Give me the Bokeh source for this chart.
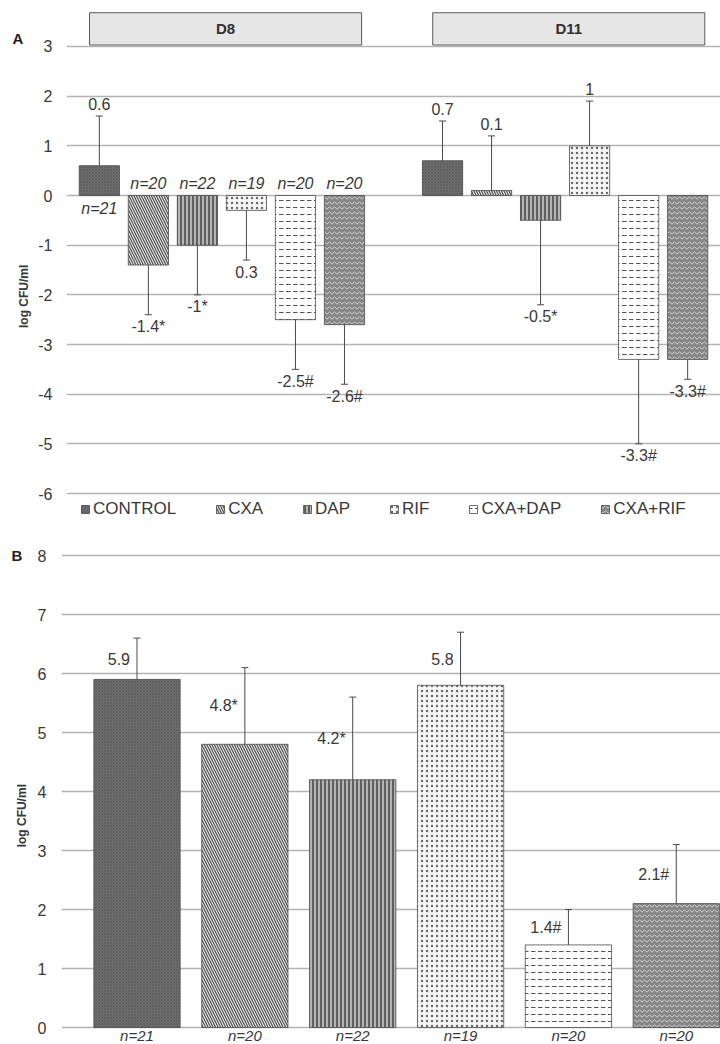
import math
from bokeh.plotting import figure
from bokeh.layouts import column, row
from bokeh.models import (ColumnDataSource, Range1d, FixedTicker, Legend, LegendItem,
                          Label, LabelSet)
from bokeh.core.properties import value
from bokeh.embed import file_html
from bokeh.resources import INLINE

# ---------------- data ----------------
treatments = ["CONTROL", "CXA", "DAP", "RIF", "CXA+DAP", "CXA+RIF"]
days = ["D8", "D11"]

# Panel A: change of log CFU/ml at day 8 and day 11
a_d8_mean = [0.6, -1.4, -1.0, -0.3, -2.5, -2.6]
a_d8_sd = [1.0, 1.0, 1.0, 1.0, 1.0, 1.2]
a_d11_mean = [0.7, 0.1, -0.5, 1.0, -3.3, -3.3]
a_d11_sd = [0.8, 1.1, 1.7, 0.9, 1.7, 0.4]
a_d8_labels = ["0.6", "-1.4*", "-1*", "0.3", "-2.5#", "-2.6#"]
a_d11_labels = ["0.7", "0.1", "-0.5*", "1", "-3.3#", "-3.3#"]
n_counts = ["n=21", "n=20", "n=22", "n=19", "n=20", "n=20"]
a_ticks = [-6, -5, -4, -3, -2, -1, 0, 1, 2, 3]
a_tick_labels = ["-6", "-5", "-4", "-3", "-2", "-1", "0", "1", "2", "3"]

# Panel B: log CFU/ml
b_mean = [5.9, 4.8, 4.2, 5.8, 1.4, 2.1]
b_sd = [0.7, 1.3, 1.4, 0.9, 0.6, 1.0]
b_labels = ["5.9", "4.8*", "4.2*", "5.8", "1.4#", "2.1#"]
b_ticks = [0, 1, 2, 3, 4, 5, 6, 7, 8]
b_tick_labels = ["0", "1", "2", "3", "4", "5", "6", "7", "8"]

# ---------------- styles ----------------
FONT = "Liberation Sans"
TXT = "#383838"
GRID = "#b3b3b3"
EDGE = "#4a4a4a"
styles = [
    dict(fill_color="#6f6f6f", hatch_pattern="x", hatch_color="#5a5a5a", hatch_scale=3, hatch_weight=0.7),
    dict(fill_color="#f0f0f0", hatch_pattern="\\", hatch_color="#4a4a4a", hatch_scale=5, hatch_weight=1.2),
    dict(fill_color="#b5b5b5", hatch_pattern="|", hatch_color="#3a3a3a", hatch_scale=4, hatch_weight=1.4),
    dict(fill_color="#f7f7f7", hatch_pattern=".", hatch_color="#6a6a6a", hatch_scale=5, hatch_weight=1),
    dict(fill_color="#ffffff", hatch_pattern='"', hatch_color="#555555", hatch_scale=7, hatch_weight=1),
    dict(fill_color="#858585", hatch_pattern="v", hatch_color="#d4d4d4", hatch_scale=5, hatch_weight=1),
]
GROUP_STEP = 7
SIDE_W = 34
TOTAL_W = 720


def style_axes(p, ticks, tick_labels, standoff):
    p.outline_line_color = None
    p.xgrid.visible = False
    p.ygrid.grid_line_color = GRID
    p.ygrid.grid_line_width = 1.5
    ax = p.yaxis[0]
    ax.ticker = FixedTicker(ticks=ticks)
    ax.major_label_overrides = {t: s for t, s in zip(ticks, tick_labels)}
    ax.axis_line_color = None
    ax.major_tick_line_color = None
    ax.minor_tick_line_color = None
    ax.major_tick_out = 0
    ax.major_tick_in = 0
    ax.major_label_standoff = standoff
    ax.major_label_text_font = FONT
    ax.major_label_text_font_size = "16px"
    ax.major_label_text_color = TXT


def side_figure(height, y_range, min_top, letter, letter_x, letter_y, label_x, label_y):
    s = figure(width=SIDE_W, height=height, x_range=Range1d(0, SIDE_W), y_range=y_range,
               output_backend="svg", toolbar_location=None, x_axis_location=None,
               y_axis_location=None, min_border=0, min_border_top=min_top)
    s.outline_line_color = None
    s.xgrid.visible = False
    s.ygrid.visible = False
    s.add_layout(Label(x=letter_x, y=letter_y, text=letter, text_font=FONT, text_font_size="15px",
                       text_font_style="bold", text_color="#222222",
                       text_align="center", text_baseline="middle"))
    s.add_layout(Label(x=label_x, y=label_y, text="log CFU/ml", angle=math.pi / 2, text_font=FONT,
                       text_font_size="12px", text_font_style="bold", text_color=TXT,
                       text_align="center", text_baseline="middle"))
    return s


# ---------------- panel A ----------------
A_H, A_TOP = 548, 8
pA = figure(width=TOTAL_W - SIDE_W, height=A_H, x_range=Range1d(-0.67, 12.67),
            y_range=Range1d(-7.107, 3.765),
            output_backend="svg", toolbar_location=None, x_axis_location=None,
            min_border_left=32, min_border_right=0, min_border_top=A_TOP, min_border_bottom=0)
style_axes(pA, a_ticks, a_tick_labels, 14)

means_by_day = [a_d8_mean, a_d11_mean]
sds_by_day = [a_d8_sd, a_d11_sd]
labels_by_day = [a_d8_labels, a_d11_labels]

items = []
for t, name in enumerate(treatments):
    xs = [g * GROUP_STEP + t for g in range(len(days))]
    tops = [means_by_day[g][t] for g in range(len(days))]
    r = pA.vbar(x=xs, bottom=0, top=tops, width=0.82, line_color=EDGE, line_width=0.8, **styles[t])
    items.append(LegendItem(label=name, renderers=[r]))

ex, ey0, ey1, vtxt, voff = [], [], [], [], []
for g in range(len(days)):
    for t in range(len(treatments)):
        m, s = means_by_day[g][t], sds_by_day[g][t]
        end = m + s if m >= 0 else m - s
        ex.append(g * GROUP_STEP + t)
        ey0.append(m)
        ey1.append(end)
        vtxt.append(labels_by_day[g][t])
        voff.append(12 if m >= 0 else -12)
err_src = ColumnDataSource(dict(x=ex, y0=ey0, y1=ey1, text=vtxt, off=voff))
pA.segment(x0="x", y0="y0", x1="x", y1="y1", source=err_src, line_color=EDGE, line_width=1)
pA.scatter(x="x", y="y1", source=err_src, marker="dash", size=7, line_color=EDGE, line_width=1)
pA.add_layout(LabelSet(x="x", y="y1", text="text", y_offset="off", source=err_src,
                       text_font=value(FONT), text_font_size="16px", text_color=TXT,
                       text_align="center", text_baseline="middle"))

# n counts (day 8 group)
n_src = ColumnDataSource(dict(x=list(range(len(treatments))), y=[0] * len(treatments), text=n_counts,
                              off=[-13 if m > 0 else 12 for m in a_d8_mean]))
pA.add_layout(LabelSet(x="x", y="y", text="text", y_offset="off", source=n_src,
                       text_font=value(FONT), text_font_size="16px", text_font_style="italic",
                       text_color=TXT, text_align="center", text_baseline="middle"))

# day header boxes
hl = [g * GROUP_STEP - 0.2 for g in range(len(days))]
hr = [g * GROUP_STEP + 5.35 for g in range(len(days))]
hdr_src = ColumnDataSource(dict(left=hl, right=hr, mid=[(a + b) / 2 for a, b in zip(hl, hr)],
                                bottom=[3.03] * 2, top=[3.68] * 2, cy=[3.355] * 2, text=days))
pA.quad(left="left", right="right", bottom="bottom", top="top", source=hdr_src,
        fill_color="#e6e6e6", line_color="#5a5a5a", line_width=1)
pA.add_layout(LabelSet(x="mid", y="cy", text="text", source=hdr_src, text_font=value(FONT),
                       text_font_size="15px", text_font_style="bold", text_color="#303030",
                       text_align="center", text_baseline="middle"))

legend = Legend(items=items, orientation="horizontal", location=(14, 29), spacing=39,
                label_standoff=3, glyph_width=10, glyph_height=10, label_height=18,
                label_text_font=FONT, label_text_font_size="17px", label_text_color=TXT,
                border_line_color=None, background_fill_alpha=0, margin=0, padding=0)
pA.add_layout(legend, "center")

sA = side_figure(A_H, pA.y_range, A_TOP, "A", 17.5, 3.17, 23, -2.03)

# ---------------- panel B ----------------
B_H, B_TOP = 1044 - A_H, 2
pB = figure(width=TOTAL_W - SIDE_W, height=B_H, x_range=Range1d(-0.70, 5.41),
            y_range=Range1d(-0.288, 8.085),
            output_backend="svg", toolbar_location=None, x_axis_location=None,
            min_border_left=26, min_border_right=0, min_border_top=B_TOP, min_border_bottom=0)
style_axes(pB, b_ticks, b_tick_labels, 15)

for t, name in enumerate(treatments):
    pB.vbar(x=[t], bottom=0, top=[b_mean[t]], width=0.80, line_color=EDGE, line_width=0.8, **styles[t])

bx = list(range(len(treatments)))
b_src = ColumnDataSource(dict(x=bx, y0=b_mean, y1=[m + s for m, s in zip(b_mean, b_sd)],
                              ym=[m + s / 2 for m, s in zip(b_mean, b_sd)], text=b_labels,
                              zero=[0] * len(bx), n=n_counts))
pB.segment(x0="x", y0="y0", x1="x", y1="y1", source=b_src, line_color=EDGE, line_width=1)
pB.scatter(x="x", y="y1", source=b_src, marker="dash", size=7, line_color=EDGE, line_width=1)
pB.add_layout(LabelSet(x="x", y="ym", text="text", x_offset=-7, source=b_src,
                       text_font=value(FONT), text_font_size="16px", text_color=TXT,
                       text_align="right", text_baseline="middle"))
pB.add_layout(LabelSet(x="x", y="zero", text="n", y_offset=-16, source=b_src,
                       text_font=value(FONT), text_font_size="15px", text_font_style="italic",
                       text_color=TXT, text_align="center", text_baseline="bottom"))

sB = side_figure(B_H, pB.y_range, B_TOP, "B", 16.5, 8.0, 21, 3.59)

layout = column(row(sA, pA, spacing=0), row(sB, pB, spacing=0), spacing=0)
open("out.html", "w").write(file_html(layout, INLINE))
